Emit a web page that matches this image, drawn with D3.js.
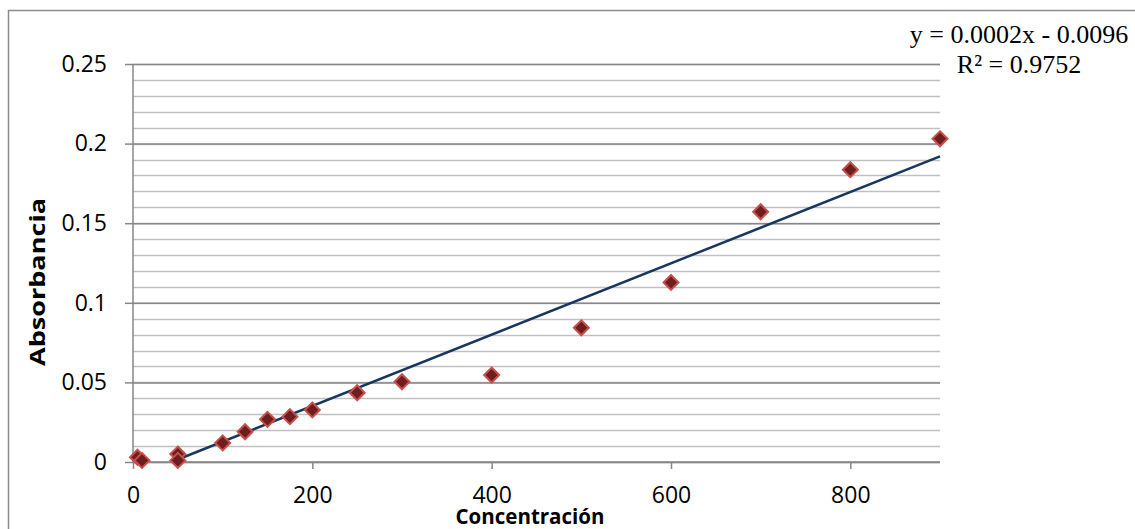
<!DOCTYPE html>
<html>
<head>
<meta charset="utf-8">
<script src="https://cdn.jsdelivr.net/npm/d3@7"></script>
<style>
  body { margin: 0; background: #fff; }
  svg { display: block; }
  .tick-label { font-family: "Open Sans", sans-serif; font-size: 23px; fill: #000; }
  .axis-title { font-family: "Open Sans", sans-serif; font-size: 20.5px; font-weight: bold; fill: #000; }
  .eq { font-family: "Liberation Serif", "Times New Roman", serif; font-size: 26px; fill: #000; }
</style>
</head>
<body>
<div id="chart"></div>
<script>
// data
var concentracion = [5, 10, 50, 50, 100, 125, 150, 175, 200, 250, 300, 400, 500, 600, 700, 800, 900];
var absorbancia   = [0.003, 0.001, 0.005, 0.001, 0.012, 0.019, 0.0268, 0.0285, 0.0327, 0.0435, 0.0504, 0.0546, 0.0843, 0.1128, 0.1572, 0.1836, 0.2030];

var xTicks = [0, 200, 400, 600, 800];
var yTicks = [0, 0.05, 0.1, 0.15, 0.2, 0.25];
var yMinor = d3.range(0, 0.2501, 0.01);

// trendline as shown (rounded label, fitted line)
var trendSlope = 0.000224, trendIntercept = -0.0096;
var eqLines = ["y = 0.0002x - 0.0096", "R² = 0.9752"];

var W = 1135, H = 529;
var margin = {left: 133, top: 64, right: 195, bottom: 67};

var svg = d3.select("#chart").append("svg")
    .attr("width", W)
    .attr("height", H);

// outer chart border (runs off the right/bottom edge)
svg.append("rect")
    .attr("x", 8.5).attr("y", 10.5)
    .attr("width", W).attr("height", H)
    .attr("fill", "none")
    .attr("stroke", "#8c8c8c")
    .attr("stroke-width", 1.5);

var xScale = d3.scaleLinear().domain([0, 900]).range([margin.left, W - margin.right]);
var yScale = d3.scaleLinear().domain([0, 0.25]).range([H - margin.bottom, margin.top]);

var x0 = xScale(0), x1 = xScale(900);

// minor gridlines
svg.append("g").selectAll("line")
    .data(yMinor)
    .enter().append("line")
    .attr("x1", x0).attr("x2", x1)
    .attr("y1", function(d){ return Math.round(yScale(d)) + 0.5; })
    .attr("y2", function(d){ return Math.round(yScale(d)) + 0.5; })
    .attr("stroke", "#c0c0c0")
    .attr("stroke-width", 1.5);

// major gridlines + y ticks
var yAxis = d3.axisLeft(yScale)
    .tickValues(yTicks)
    .tickSize(8)
    .tickPadding(18)
    .tickFormat(function(d){ return d === 0 ? "0" : d3.format("")(+d.toFixed(2)); });

var gy = svg.append("g")
    .attr("transform", "translate(" + x0 + ",0)")
    .call(yAxis);
gy.select(".domain").remove();
gy.selectAll(".tick line").attr("stroke", "#878787").attr("stroke-width", 1.5);
gy.selectAll(".tick text").attr("class", "tick-label").attr("font-size", null).attr("font-family", null);
gy.selectAll(".tick").append("line")
    .attr("x1", 0).attr("x2", x1 - x0)
    .attr("stroke", "#878787").attr("stroke-width", 1.5);

// y axis line
svg.append("line")
    .attr("x1", x0).attr("x2", x0)
    .attr("y1", yScale(0.25)).attr("y2", yScale(0))
    .attr("stroke", "#878787").attr("stroke-width", 1.5);

// x axis
var gx = svg.append("g")
    .attr("transform", "translate(0," + yScale(0) + ")")
    .call(d3.axisBottom(xScale).tickValues(xTicks).tickSize(7).tickPadding(18));
gx.select(".domain").remove();
gx.selectAll(".tick line").attr("stroke", "#878787").attr("stroke-width", 1.5);
gx.selectAll(".tick text").attr("class", "tick-label").attr("font-size", null).attr("font-family", null);

svg.append("line")
    .attr("x1", x0).attr("x2", x1)
    .attr("y1", yScale(0)).attr("y2", yScale(0))
    .attr("stroke", "#878787").attr("stroke-width", 1.5);

// trendline, clipped at y = 0
var xStart = -trendIntercept / trendSlope;
svg.append("line")
    .attr("x1", xScale(xStart)).attr("y1", yScale(trendSlope * xStart + trendIntercept))
    .attr("x2", xScale(900)).attr("y2", yScale(trendSlope * 900 + trendIntercept))
    .attr("stroke", "#17375e")
    .attr("stroke-width", 2.5);

// diamond markers
var pts = concentracion.map(function(c, i){ return {x: c, y: absorbancia[i]}; });
svg.append("g").selectAll("path")
    .data(pts)
    .enter().append("path")
    .attr("d", "M0,-7.5L7.5,0L0,7.5L-7.5,0Z")
    .attr("transform", function(d){ return "translate(" + xScale(d.x) + "," + yScale(d.y) + ")"; })
    .attr("fill", "#6e1e1e")
    .attr("stroke", "#c8504d")
    .attr("stroke-width", 2);

// axis titles
svg.append("text")
    .attr("class", "axis-title")
    .attr("x", 530).attr("y", 524)
    .attr("text-anchor", "middle")
    .text("Concentración");

svg.append("text")
    .attr("class", "axis-title")
    .attr("text-anchor", "middle")
    .attr("textLength", 168)
    .attr("lengthAdjust", "spacingAndGlyphs")
    .attr("transform", "translate(45,282) rotate(-90)")
    .text("Absorbancia");

// trendline equation
svg.append("g").selectAll("text")
    .data(eqLines)
    .enter().append("text")
    .attr("class", "eq")
    .attr("x", 1019)
    .attr("y", function(d, i){ return 43 + i * 30; })
    .attr("text-anchor", "middle")
    .text(function(d){ return d; });
</script>
</body>
</html>
